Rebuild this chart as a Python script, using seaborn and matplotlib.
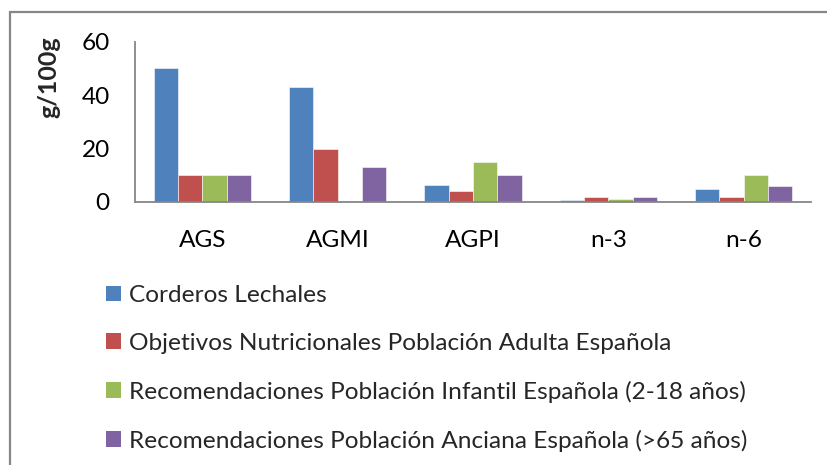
import numpy as np
import pandas as pd
import matplotlib
matplotlib.use("Agg")
import matplotlib.pyplot as plt
import seaborn as sns
from matplotlib.patches import Patch
from matplotlib.lines import Line2D

categories = ["AGS", "AGMI", "AGPI", "n-3", "n-6"]
series_names = [
    "Corderos Lechales",
    "Objetivos Nutricionales Población Adulta Española",
    "Recomendaciones Población Infantil Española (2-18 años)",
    "Recomendaciones Población Anciana Española (>65 años)",
]
corderos = [50, 43, 6.5, 0.8, 5]
objetivos_adulta = [10, 20, 4, 2, 2]
recom_infantil = [10, np.nan, 15, 1.1, 10]
recom_anciana = [10, 13, 10, 2, 6]
y_ticks = [0, 20, 40, 60]

colors = ["#4F81BD", "#C0504D", "#9BBB59", "#8064A2"]

rows = []
for name, vals in zip(series_names, [corderos, objetivos_adulta, recom_infantil, recom_anciana]):
    for cat, v in zip(categories, vals):
        rows.append({"categoria": cat, "serie": name, "valor": v})
df = pd.DataFrame(rows)

sns.set_theme(style="white")
plt.rcParams["font.family"] = ["Lato", "DejaVu Sans"]

FS = 17.6
fig = plt.figure(figsize=(8.27, 4.65), dpi=100)
ax = fig.add_axes([0.163, 0.5656, 0.818, 0.3447])

sns.barplot(data=df, x="categoria", y="valor", hue="serie", order=categories,
            hue_order=series_names, palette=colors, width=0.72, saturation=1,
            errorbar=None, ax=ax, legend=False, linewidth=0.7,
            edgecolor=(1, 1, 1, 0.55))

grey = "#868686"
ax.set_xlim(-0.5, len(categories) - 0.5)
ax.set_ylim(0, 60)
ax.set_yticks(y_ticks)
ax.set_yticklabels([str(t) for t in y_ticks], fontsize=FS, color="black")
ax.set_xticks(range(len(categories)))
ax.set_xticklabels(categories, fontsize=FS, color="black")
ax.set_xticks(np.arange(-0.5, len(categories)), minor=True)
ax.tick_params(axis="x", which="major", length=0, pad=20)
ax.tick_params(axis="x", which="minor", length=6, width=1.3, color=grey, direction="out")
ax.tick_params(axis="y", which="major", length=6, width=1.3, color=grey, direction="out", pad=12)
ax.set_xlabel("")
ax.set_ylabel("g/100g", fontsize=18, fontweight="bold")
ax.yaxis.set_label_coords(-0.127, 0.78)
ax.yaxis.label.set_verticalalignment("center")
for side in ["top", "right"]:
    ax.spines[side].set_visible(False)
for side in ["left", "bottom"]:
    ax.spines[side].set_color(grey)
    ax.spines[side].set_linewidth(1.3)
ax.grid(False)

handles = [Patch(facecolor=c, edgecolor="none") for c in colors]
fig.legend(handles, series_names, loc="upper left", bbox_to_anchor=(0.116, 0.408),
           frameon=False, fontsize=FS, handlelength=0.62, handleheight=0.62,
           handletextpad=0.32, labelspacing=1.1, borderaxespad=0)

# outer chart frame
fig.add_artist(Line2D([9.5 / 827, 9.5 / 827], [0, 1 - 12.5 / 465], transform=fig.transFigure,
                      color=grey, linewidth=1.6))
fig.add_artist(Line2D([9.5 / 827, 1], [1 - 12.5 / 465, 1 - 12.5 / 465], transform=fig.transFigure,
                      color=grey, linewidth=1.6))

fig.savefig("out.png", dpi=100, facecolor="white")
